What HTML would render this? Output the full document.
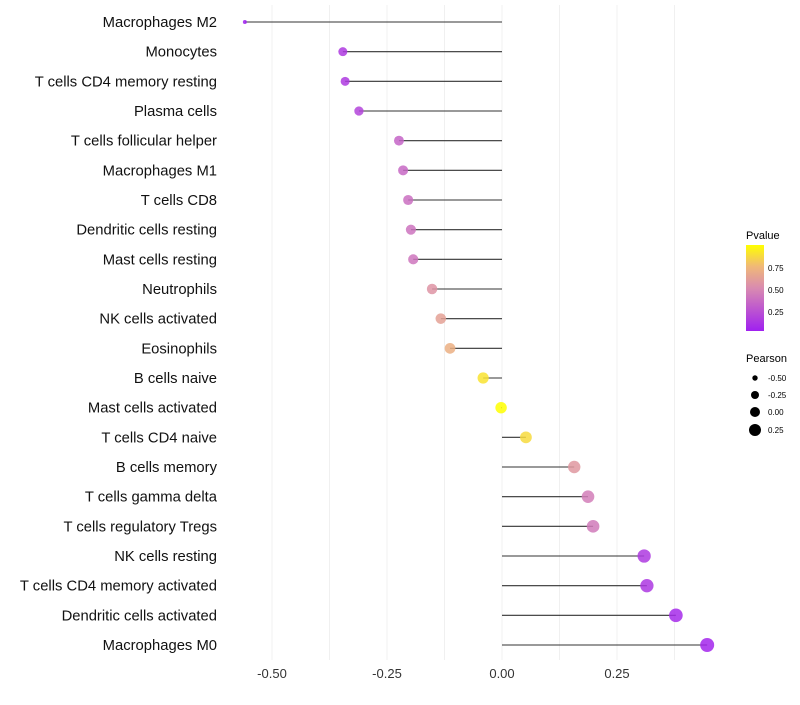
<!DOCTYPE html>
<html><head><meta charset="utf-8"><style>
body{margin:0;background:#fff;}
text{font-family:"Liberation Sans",sans-serif;}
</style></head><body>
<svg id="chart" width="800" height="700" xmlns="http://www.w3.org/2000/svg">
<g id="grid"></g>
<g id="marks"></g>
<g id="ylabels"></g>
<g id="xlabels"></g>
<g id="legend">
<defs><linearGradient id="pg" x1="0" y1="1" x2="0" y2="0">
<stop offset="0" stop-color="#a020f0"/><stop offset="0.5" stop-color="#d98bb0"/><stop offset="0.75" stop-color="#f0b878"/><stop offset="1" stop-color="#ffff00"/></linearGradient></defs>
<text x="746" y="239" font-size="11">Pvalue</text>
<rect x="746" y="245" width="18" height="86" fill="url(#pg)"/>
<text x="768" y="271" font-size="8">0.75</text>
<text x="768" y="293" font-size="8">0.50</text>
<text x="768" y="315" font-size="8">0.25</text>
<text x="746" y="362" font-size="11">Pearson</text>
<circle cx="755" cy="378" r="2.7"/>
<circle cx="755" cy="395" r="4"/>
<circle cx="755" cy="412" r="5"/>
<circle cx="755" cy="430" r="6"/>
<text x="768" y="381" font-size="8">-0.50</text>
<text x="768" y="398" font-size="8">-0.25</text>
<text x="768" y="415" font-size="8">0.00</text>
<text x="768" y="433" font-size="8">0.25</text>
</g>
</svg>
<script>
const categories=["Macrophages M2","Monocytes","T cells CD4 memory resting","Plasma cells","T cells follicular helper","Macrophages M1","T cells CD8","Dendritic cells resting","Mast cells resting","Neutrophils","NK cells activated","Eosinophils","B cells naive","Mast cells activated","T cells CD4 naive","B cells memory","T cells gamma delta","T cells regulatory  Tregs","NK cells resting","T cells CD4 memory activated","Dendritic cells activated","Macrophages M0"];
const pearson=[-0.559,-0.346,-0.341,-0.311,-0.224,-0.215,-0.204,-0.198,-0.193,-0.152,-0.133,-0.113,-0.041,-0.002,0.052,0.157,0.187,0.198,0.309,0.315,0.378,0.446];
const pvalues=[0.0,0.12,0.12,0.17,0.32,0.34,0.37,0.39,0.4,0.55,0.62,0.7,0.9,1.0,0.87,0.57,0.44,0.42,0.12,0.11,0.05,0.03];
const xTicks=[-0.5,-0.25,0,0.25];
const xTickLabels=["-0.50","-0.25","0.00","0.25"];
const NS="http://www.w3.org/2000/svg";
const xs=v=>502+v*460;
const ys=i=>22+i*(623/(categories.length-1));
function mk(t,a,p){const e=document.createElementNS(NS,t);for(const k in a)e.setAttribute(k,a[k]);p.appendChild(e);return e;}
function hex(c){return [parseInt(c.slice(1,3),16),parseInt(c.slice(3,5),16),parseInt(c.slice(5,7),16)];}
const stops=[[0,"#a020f0"],[0.5,"#d98bb0"],[0.75,"#f0b878"],[1,"#ffff00"]];
function col(p){for(let i=1;i<stops.length;i++){if(p<=stops[i][0]){const t=(p-stops[i-1][0])/(stops[i][0]-stops[i-1][0]);const a=hex(stops[i-1][1]),b=hex(stops[i][1]);return `rgb(${a.map((v,k)=>Math.round(v+(b[k]-v)*t)).join(",")})`;}}return stops[3][1];}
function rad(v){return v<-0.5?2:Math.sqrt(32.8+36.3*v);}
const grid=document.getElementById('grid'),marks=document.getElementById('marks'),yl=document.getElementById('ylabels'),xl=document.getElementById('xlabels');
for(let v=-0.5;v<=0.45;v+=0.125){const g=mk('line',{x1:xs(v),x2:xs(v),y1:5,y2:660,stroke:'#f0f0f0','stroke-width':1},grid);

}
xTicks.forEach((v,i)=>{const t=mk('text',{x:xs(v),y:678,'font-size':13,'text-anchor':'middle',fill:'#333'},xl);t.textContent=xTickLabels[i];

});
categories.forEach((c,i)=>{const y=ys(i);
const t=mk('text',{x:217,y:y+5,'font-size':14.8,'text-anchor':'end',fill:'#111'},yl);t.textContent=c;


const l=mk('line',{x1:xs(0),x2:xs(pearson[i]),y1:y,y2:y,stroke:'#333','stroke-width':1.1},marks);


const d=mk('circle',{cx:xs(pearson[i]),cy:y,r:rad(pearson[i]),fill:col(pvalues[i]),'fill-opacity':0.85},marks);

});
</script>
</body></html>
